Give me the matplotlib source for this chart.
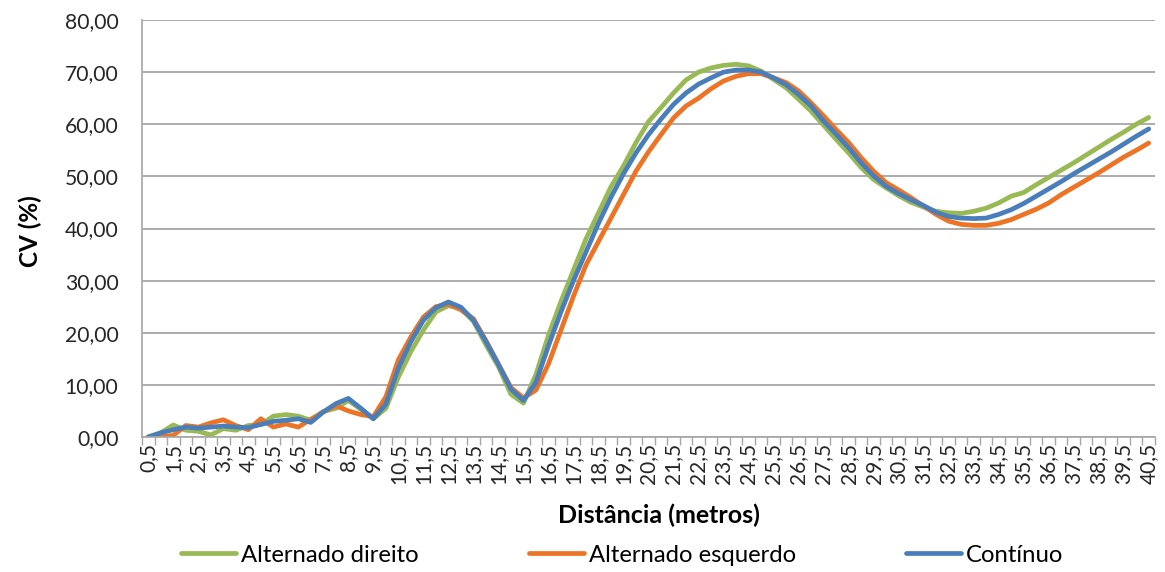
import matplotlib
matplotlib.use("Agg")
import matplotlib.pyplot as plt
from matplotlib.ticker import FixedLocator, FuncFormatter

plt.rcParams['font.family'] = ['Lato', 'DejaVu Sans']

# Distances (m) sampled every 0.5 m
distancias = [0.5 + 0.5 * k for k in range(81)]

alternado_direito = [
    0.0, 0.8, 2.3, 1.3, 1.1, 0.4, 1.6, 1.3, 2.2, 2.4,
    4.0, 4.3, 4.0, 3.2, 4.9, 5.5, 7.0, 5.3, 3.5, 5.5,
    11.5, 16.4, 20.5, 24.0, 25.2, 24.6, 22.2, 17.7, 13.5, 8.2,
    6.5, 12.0, 19.5, 26.0, 32.0, 38.0, 43.0, 48.0, 52.0, 56.5,
    60.5, 63.2, 66.0, 68.5, 70.0, 70.8, 71.3, 71.5, 71.2, 70.2,
    68.6, 67.0, 64.8, 62.5, 59.8, 57.1, 54.5, 51.7, 49.4, 47.8,
    46.3, 45.0, 44.1, 43.3, 43.0, 42.9, 43.3, 43.9, 44.9, 46.2,
    46.9, 48.4, 49.8, 51.2, 52.6, 54.1, 55.6, 57.1, 58.5, 60.0,
    61.3,
]

alternado_esquerdo = [
    0.0, 0.1, 0.3, 2.2, 1.9, 2.7, 3.3, 2.2, 1.4, 3.5,
    1.9, 2.5, 1.9, 3.4, 4.8, 6.0, 5.0, 4.3, 3.9, 7.7,
    14.8, 19.2, 23.0, 25.0, 25.5, 24.4, 22.7, 18.5, 14.0, 9.5,
    7.5, 9.0, 14.0, 20.5, 27.0, 33.0, 37.5, 42.0, 46.5, 51.0,
    54.7, 58.0, 61.2, 63.5, 65.0, 66.8, 68.3, 69.2, 69.7, 69.7,
    68.9, 68.0, 66.4, 64.1, 61.6, 59.0, 56.5, 53.6, 51.0, 48.8,
    47.4, 45.9, 44.3, 42.7, 41.4, 40.8, 40.6, 40.6, 41.0, 41.7,
    42.7, 43.7, 44.9, 46.5, 47.9, 49.3, 50.7, 52.2, 53.7, 55.0,
    56.4,
]

continuo = [
    0.0, 0.8, 1.4, 1.9, 1.7, 1.9, 2.1, 1.9, 1.8, 2.4,
    3.0, 3.2, 3.5, 2.8, 4.8, 6.4, 7.4, 5.5, 3.5, 6.3,
    13.2, 18.3, 22.4, 24.8, 25.9, 24.9, 22.4, 18.3, 13.9, 9.2,
    7.0, 10.5, 17.5, 24.0, 30.0, 35.5, 41.0, 46.0, 50.5, 54.5,
    58.0, 61.0, 63.8, 66.0, 67.7, 68.9, 70.0, 70.4, 70.4, 70.0,
    68.9, 67.6, 65.7, 63.5, 60.6, 58.1, 55.5, 52.6, 50.1, 48.1,
    46.7, 45.5, 44.4, 43.1, 42.3, 42.0, 41.9, 42.0, 42.7, 43.6,
    44.8, 46.2, 47.6, 49.0, 50.5, 51.9, 53.3, 54.7, 56.2, 57.7,
    59.1,
]

series_nomes = ["Alternado direito", "Alternado esquerdo", "Contínuo"]
series_cores = ["#98B954", "#EC7424", "#4A7EBB"]
y_ticks = [0, 10, 20, 30, 40, 50, 60, 70, 80]

fig = plt.figure(figsize=(11.65, 5.72), dpi=100)
ax = fig.add_axes([142 / 1165, 1 - 437 / 572, (1155 - 142) / 1165, (437 - 20) / 572])

pos = list(range(len(distancias)))
for valores, nome, cor in zip([alternado_direito, alternado_esquerdo, continuo],
                              series_nomes, series_cores):
    ax.plot(pos, valores, color=cor, lw=3.4, label=nome,
            solid_joinstyle='round', solid_capstyle='round')

ax.set_xlim(-0.5, len(distancias) - 0.5)
ax.set_ylim(0, 80)

# y axis: comma decimal labels and horizontal gridlines
ax.set_yticks(y_ticks)
ax.yaxis.set_major_formatter(FuncFormatter(lambda v, _: f"{v:.2f}".replace(".", ",")))
ax.grid(axis='y', color='#A6A6A6', lw=1.3)
ax.set_axisbelow(True)
ax.tick_params(axis='y', length=0, labelsize=15.2, pad=17, colors='#262626')

# category axis: tick marks between categories, label every other category
lab_pos = pos[::2]
ax.set_xticks(lab_pos)
ax.set_xticklabels([f"{distancias[p]:.1f}".replace(".", ",") for p in lab_pos],
                   rotation=90, fontsize=15, color='#262626')
ax.tick_params(axis='x', which='major', length=0, pad=4)
ax.xaxis.set_minor_locator(FixedLocator([p - 0.5 for p in range(len(distancias) + 1)]))
ax.tick_params(axis='x', which='minor', length=6, width=1, color='#A6A6A6')

for s in ['top', 'right']:
    ax.spines[s].set_visible(False)
for s in ['left', 'bottom']:
    ax.spines[s].set_color('#A6A6A6')
    ax.spines[s].set_linewidth(1.2)

ax.set_ylabel("CV (%)", fontsize=17.5, fontweight='bold')
ax.yaxis.set_label_coords(-0.099, 0.494)
ax.set_xlabel("Distância (metros)", fontsize=18, fontweight='bold', labelpad=14)
ax.xaxis.label.set_x(0.51)

fig.legend(loc='center', bbox_to_anchor=(0.534, 1 - 555 / 572), ncol=3, frameon=False,
           fontsize=17.2, handlelength=2.3, handletextpad=0.22, columnspacing=4.6)

fig.savefig("out.png", dpi=100)
